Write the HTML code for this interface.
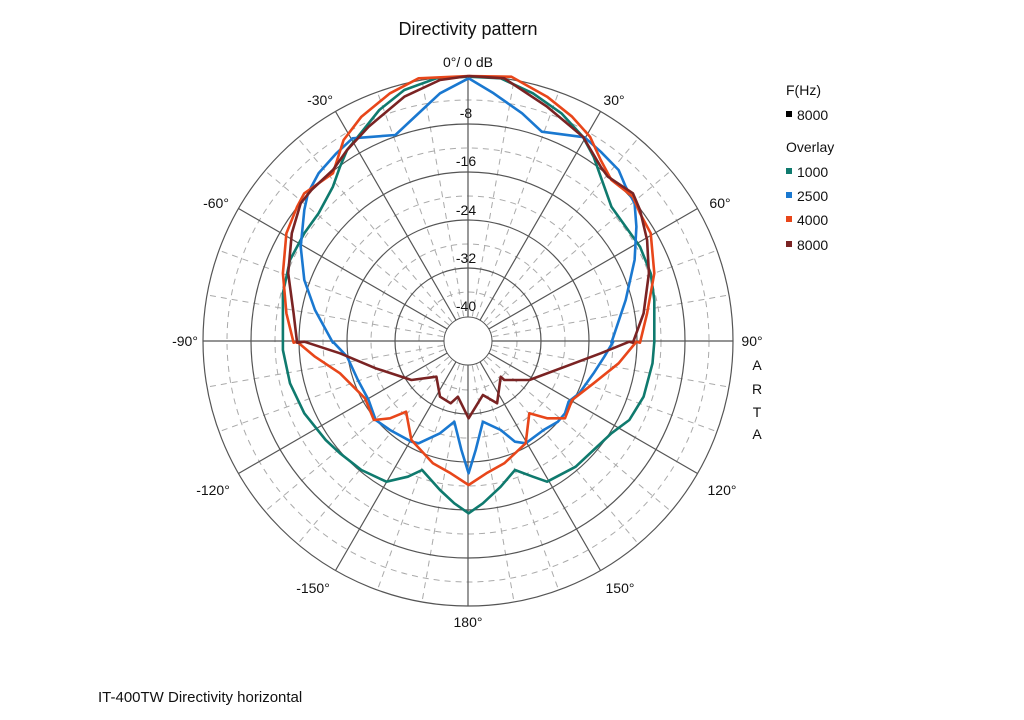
<!DOCTYPE html>
<html><head><meta charset="utf-8"><style>
html,body{margin:0;padding:0;background:#fff;}
svg text{font-family:"Liberation Sans",Arial,sans-serif;fill:#111;}
</style></head><body>
<svg id="s" width="1024" height="715" viewBox="0 0 1024 715" xmlns="http://www.w3.org/2000/svg">
<rect width="1024" height="715" fill="#fff"/>
<g id="grid"></g>
<g id="curves" fill="none" stroke-width="2.6" stroke-linejoin="round"></g>
<circle cx="468" cy="341" r="24" fill="#fff" stroke="#555" stroke-width="1"/>
<g font-size="14" text-anchor="middle">
<text x="468" y="35" font-size="18">Directivity pattern</text>
<text x="468" y="67">0°/ 0 dB</text>
<text x="320" y="105">-30°</text><text x="614" y="105">30°</text>
<text x="216" y="208">-60°</text><text x="720" y="208">60°</text>
<text x="185" y="346">-90°</text><text x="752" y="346">90°</text>
<text x="213" y="495">-120°</text><text x="722" y="495">120°</text>
<text x="313" y="593">-150°</text><text x="620" y="593">150°</text>
<text x="468" y="627">180°</text>
<text x="466" y="118">-8</text><text x="466" y="166">-16</text><text x="466" y="215">-24</text>
<text x="466" y="263">-32</text><text x="466" y="311">-40</text>
<text x="757" y="370">A</text><text x="757" y="394">R</text><text x="757" y="417">T</text><text x="757" y="439">A</text>
</g>
<g font-size="14">
<text x="786" y="95">F(Hz)</text>
<rect x="786" y="111" width="6" height="6" fill="#000"/><text x="797" y="120">8000</text>
<text x="786" y="152">Overlay</text>
<rect x="786" y="168" width="6" height="6" fill="#0f7a6e"/><text x="797" y="177">1000</text>
<rect x="786" y="192" width="6" height="6" fill="#1a78d0"/><text x="797" y="201">2500</text>
<rect x="786" y="216" width="6" height="6" fill="#e8461a"/><text x="797" y="225">4000</text>
<rect x="786" y="241" width="6" height="6" fill="#7a2323"/><text x="797" y="250">8000</text>
<text x="98" y="702" font-size="15">IT-400TW Directivity horizontal</text>
</g>
</svg>
<script>
var NS="http://www.w3.org/2000/svg",cx=468,cy=341;
var g=document.getElementById("grid");
function el(t,a,p){var e=document.createElementNS(NS,t);for(var k in a)e.setAttribute(k,a[k]);p.appendChild(e);return e;}
[49,97,145,193,241].forEach(function(r){el("circle",{cx:cx,cy:cy,r:r,fill:"none",stroke:"#aaa","stroke-dasharray":"6,5"},g);});
for(var a=0;a<360;a+=10){var t=a*Math.PI/180,s=Math.sin(t),c=-Math.cos(t);
 if(a%30==0)el("line",{x1:cx,y1:cy,x2:cx+265*s,y2:cy+265*c,stroke:"#555","stroke-width":1.2},g);
 else el("line",{x1:cx+25*s,y1:cy+25*c,x2:cx+265*s,y2:cy+265*c,stroke:"#aaa","stroke-dasharray":"6,5"},g);}
[73,121,169,217,265].forEach(function(r){el("circle",{cx:cx,cy:cy,r:r,fill:"none",stroke:"#555","stroke-width":1.2},g);});
function z1(p){return [190+p[0]/2.8,60+p[1]/3];}
function z2(p){return [190+p[0]/2.8,330+p[1]/3];}
function path(parts,col){var pts=[];parts.forEach(function(pp){pp[1].forEach(function(p){pts.push(pp[0](p));});});
 el("polyline",{points:pts.map(function(p){return p[0].toFixed(1)+","+p[1].toFixed(1);}).join(" "),stroke:col},document.getElementById("curves"));}
path([[z1,[[780,50],[870,55],[960,100],[1040,160],[1100,230],[1130,290],[1150,350],[1180,440],[1220,500],[1260,560],[1290,640],[1300,720],[1300,848]]],
 [z2,[[1300,35],[1295,100],[1270,200],[1230,270],[1180,310],[1130,360],[1080,410],[1000,455],[960,440],[910,420],[870,470],[820,520],[780,550],[740,520],[700,480],[650,420],[610,440],[550,455],[480,420],[420,370],[380,330],[320,250],[280,160],[260,60],[260,35]]],
 [z1,[[260,848],[260,700],[280,600],[320,520],[360,460],[400,380],[420,320],[440,270],[470,230],[530,150],[600,90],[690,55],[780,50]]]],"#0f7a6e");
path([[z1,[[780,55],[850,100],[930,160],[985,215],[1105,232],[1150,275],[1200,330],[1220,380],[1245,430],[1250,500],[1245,600],[1220,720],[1180,848]]],
 [z2,[[1185,35],[1160,80],[1130,130],[1090,190],[1060,215],[1050,250],[1030,275],[990,300],[940,340],[910,335],[870,300],[820,275],[800,360],[780,430],[760,360],[740,275],[700,310],[640,340],[620,335],[560,300],[520,270],[500,210],[470,150],[440,80],[400,35]]],
 [z1,[[400,848],[350,750],[320,660],[310,560],[320,450],[330,400],[360,340],[410,280],[455,235],[575,225],[620,180],[700,100],[780,55]]]],"#1a78d0");
path([[z1,[[780,48],[900,50],[1000,110],[1070,170],[1120,230],[1150,300],[1180,360],[1240,410],[1260,460],[1290,520],[1300,640],[1280,760],[1260,848]]],
 [z2,[[1250,35],[1200,100],[1130,160],[1070,210],[1050,265],[1000,265],[950,250],[940,340],[880,400],[830,430],[780,465],[730,430],[680,400],[620,330],[605,245],[560,265],[515,270],[490,205],[420,130],[350,80],[300,35]]],
 [z1,[[290,848],[270,760],[260,640],[270,520],[300,440],[320,400],[400,340],[430,240],[480,170],[560,100],[640,55],[780,48]]]],"#e8461a");
path([[z1,[[780,48],[880,55],[1000,140],[1100,230],[1150,320],[1170,350],[1240,400],[1260,450],[1280,540],[1285,640],[1270,760],[1240,848]]],
 [z2,[[1230,35],[1150,70],[1050,110],[950,150],[880,150],[870,140],[860,220],[820,195],[780,265],[750,200],[730,220],[700,200],[690,140],[620,150],[520,115],[420,70],[320,35]]],
 [z1,[[300,848],[290,760],[275,640],[285,520],[310,430],[340,390],[400,330],[440,270],[500,200],[600,110],[700,60],[780,48]]]],"#7a2323");
</script>
</body></html>
